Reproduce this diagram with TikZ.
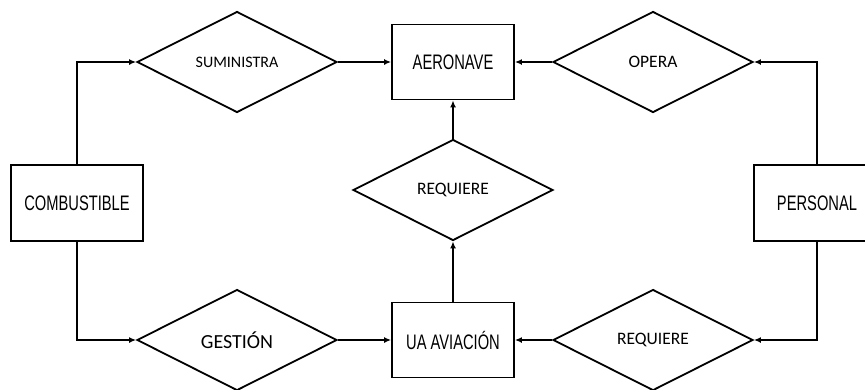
\documentclass[tikz,border=0pt]{standalone}
\usepackage{fontspec}
\setmainfont{Carlito}
\newfontfamily\narrowfont[FakeStretch=0.7]{Liberation Sans}
\usetikzlibrary{shapes.geometric,arrows.meta}

\tikzset{
	entidad/.style={draw,line width=1.8pt,minimum width=122pt,minimum height=75pt,inner sep=0pt,font=\narrowfont\fontsize{21}{24}\selectfont},
	relacion/.style={draw,diamond,line width=1.8pt,minimum width=200pt,minimum height=101pt,inner sep=0pt,font=\fontsize{17.5}{20}\selectfont},
	flecha/.style={line width=1.8pt,-{Latex[length=7pt,width=6pt]}}
}

\begin{document}
\begin{tikzpicture}[x=1pt,y=-1pt]
					\useasboundingbox (0,0) rectangle (865,389);
					\node[entidad] (aeronave) at (453,62) {AERONAVE};
					\node[entidad] (uaav) at (453,340) {UA AVIACIÓN};
					\node[entidad,minimum width=132pt,minimum height=76pt] (combust) at (77,203) {COMBUSTIBLE};
					\node[entidad,minimum width=126pt,minimum height=76pt] (personal) at (817,203) {PERSONAL};
					\node[relacion,font=\fontsize{16}{19}\selectfont] (suministra) at (237,62) {SUMINISTRA};
					\node[relacion] (opera) at (653,62) {OPERA};
					\node[relacion] (reqmedio) at (453,190) {REQUIERE};
					\node[relacion,font=\fontsize{20}{23}\selectfont] (gestion) at (237,340) {GESTIÓN};
					\node[relacion] (reqbajo) at (653,340) {REQUIERE};
					\draw[flecha] (combust.north) |- (suministra.west);
					\draw[flecha] (suministra.east) -- (aeronave.west);
					\draw[flecha] (opera.west) -- (aeronave.east);
					\draw[flecha] (personal.north) |- (opera.east);
					\draw[flecha] (reqmedio.north) -- (aeronave.south);
					\draw[flecha] (uaav.north) -- (reqmedio.south);
					\draw[flecha] (combust.south) |- (gestion.west);
					\draw[flecha] (gestion.east) -- (uaav.west);
					\draw[flecha] (personal.south) |- (reqbajo.east);
					\draw[flecha] (reqbajo.west) -- (uaav.east);
				\end{tikzpicture}
\end{document}
